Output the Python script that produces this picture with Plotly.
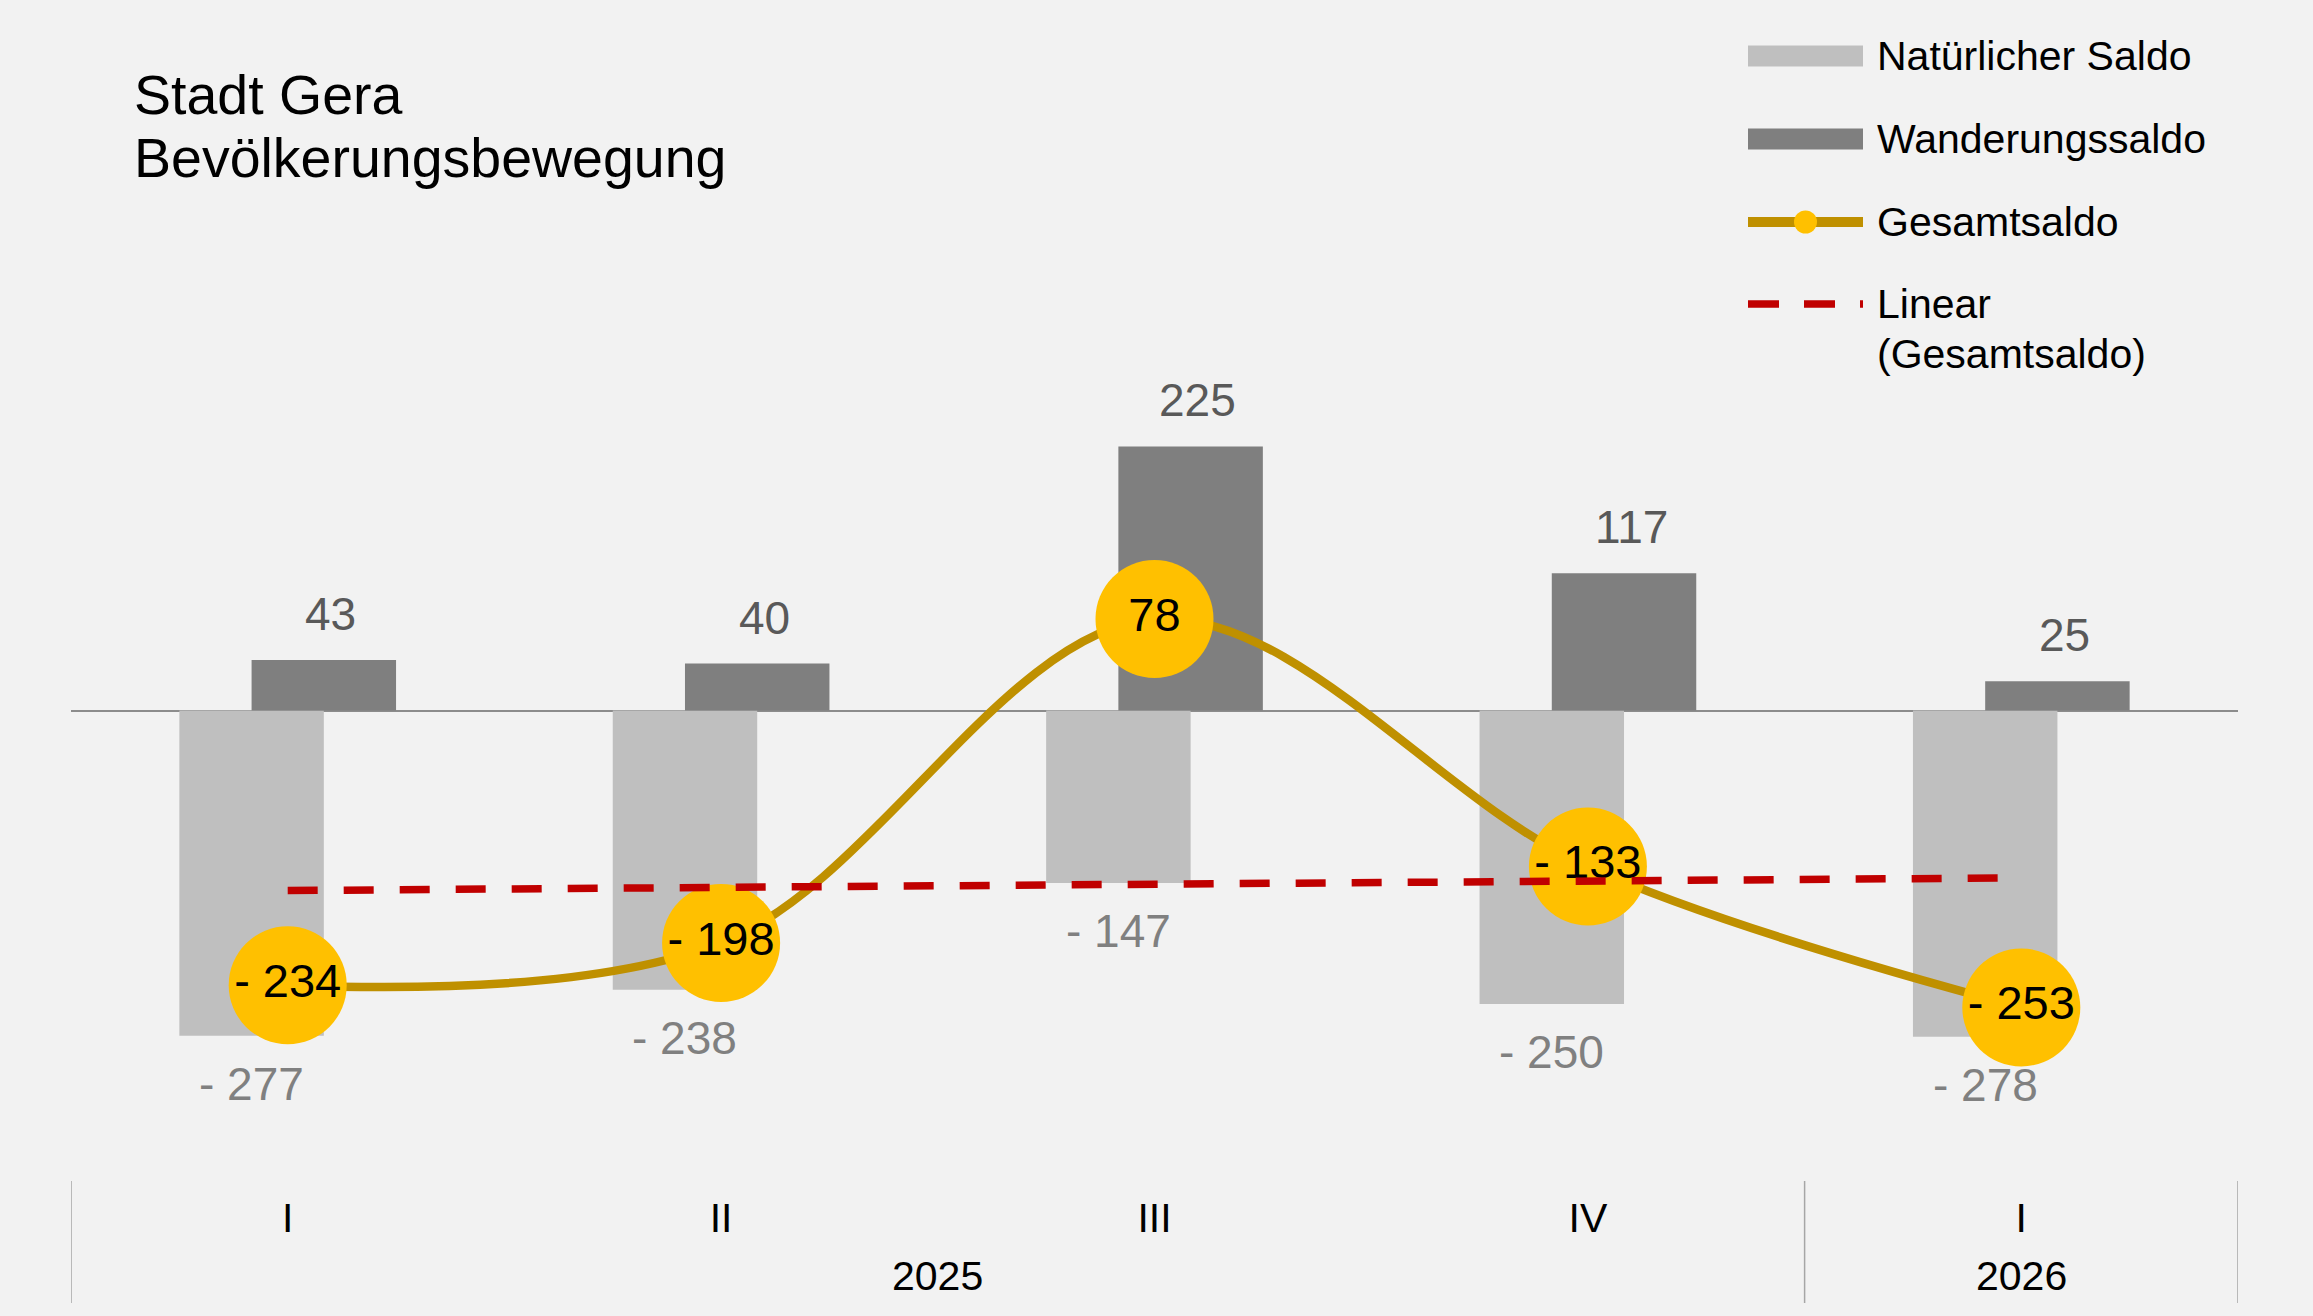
import plotly.graph_objects as go

# Daten
quartale = ["I", "II", "III", "IV", "I"]
jahre = ["2025", "2025", "2025", "2025", "2026"]
natuerlicher_saldo = [-277, -238, -147, -250, -278]
wanderungssaldo = [43, 40, 225, 117, 25]
gesamtsaldo = [-234, -198, 78, -133, -253]
linear_trend = [-153.4, -142.6]  # Endpunkte der linearen Trendlinie (erstes / letztes Quartal)

# Bildgröße und Plotbereich (Pixel)
W, H = 2313, 1316
L, R, T, B = 71, 2238, 241, 1180
FONT = "Liberation Sans, Arial, sans-serif"

def px_x(p):
    return (p - L) / (R - L)

def px_y(p):
    return (B - p) / (B - T)

def fmt(v):
    return f"- {abs(v)}" if v < 0 else str(v)

pos = list(range(len(quartale)))
fig = go.Figure()

# Balken
fig.add_trace(go.Bar(x=pos, y=natuerlicher_saldo, width=1/3, offset=-0.25,
                     marker=dict(color="#BFBFBF", line=dict(width=0)),
                     name="Natürlicher Saldo", showlegend=False, hoverinfo="skip"))
fig.add_trace(go.Bar(x=pos, y=wanderungssaldo, width=1/3, offset=-1/12,
                     marker=dict(color="#7F7F7F", line=dict(width=0)),
                     name="Wanderungssaldo", showlegend=False, hoverinfo="skip"))

# Gesamtsaldo (geglättete Linie mit großen Markern)
fig.add_trace(go.Scatter(x=pos, y=gesamtsaldo, mode="lines+markers+text",
                         line=dict(color="#BF9000", width=8.5, shape="spline", smoothing=1),
                         marker=dict(size=118, color="#FFC000", line=dict(width=0)),
                         text=[fmt(v) for v in gesamtsaldo], textposition="middle center",
                         textfont=dict(family=FONT, size=47, color="black"),
                         name="Gesamtsaldo", showlegend=False, hoverinfo="skip"))

# Linearer Trend
fig.add_trace(go.Scatter(x=[pos[0], pos[-1]], y=linear_trend, mode="lines",
                         line=dict(color="#C00000", width=7.5, dash="30px,26px"),
                         name="Linear (Gesamtsaldo)", showlegend=False, hoverinfo="skip"))

annotations = []
# Beschriftungen der Balken
for i, v in enumerate(wanderungssaldo):
    annotations.append(dict(x=i + 1/12, y=v, xref="x", yref="y", text=fmt(v), showarrow=False,
                            yanchor="bottom", yshift=18, xshift=7,
                            font=dict(family=FONT, size=46, color="#595959")))
for i, v in enumerate(natuerlicher_saldo):
    annotations.append(dict(x=i - 1/12, y=v, xref="x", yref="y", text=fmt(v), showarrow=False,
                            yanchor="top", yshift=-20,
                            font=dict(family=FONT, size=46, color="#808080")))

# Jahre unter den Quartalen
for jahr in sorted(set(jahre)):
    idx = [i for i, j in enumerate(jahre) if j == jahr]
    annotations.append(dict(x=(idx[0] + idx[-1]) / 2, y=px_y(1276), xref="x", yref="paper",
                            text=jahr, showarrow=False, yanchor="middle",
                            font=dict(family=FONT, size=41, color="black")))

# Titel
annotations.append(dict(x=px_x(132), y=px_y(95), xref="paper", yref="paper", text="Stadt Gera",
                        showarrow=False, xanchor="left", yanchor="middle",
                        font=dict(family=FONT, size=55.5, color="black")))
annotations.append(dict(x=px_x(132), y=px_y(158), xref="paper", yref="paper",
                        text="Bevölkerungsbewegung", showarrow=False, xanchor="left", yanchor="middle",
                        font=dict(family=FONT, size=55.5, color="black")))

shapes = []
# Trennlinien der Jahresgruppen
grenzen = [-0.5] + [i + 0.5 for i in range(len(jahre) - 1) if jahre[i] != jahre[i + 1]] + [len(jahre) - 0.5]
for g in grenzen:
    shapes.append(dict(type="line", xref="x", yref="paper", x0=g, x1=g, y0=px_y(1181), y1=px_y(1303),
                       line=dict(color="#A6A6A6", width=1.5)))

# Legende (manuell)
lx0, lx1, tx = 1748, 1863, 1875
leg_y = [56, 139, 222, 304]
shapes.append(dict(type="rect", xref="paper", yref="paper", x0=px_x(lx0), x1=px_x(lx1),
                   y0=px_y(leg_y[0] - 10.5), y1=px_y(leg_y[0] + 10.5),
                   fillcolor="#BFBFBF", line=dict(width=0)))
shapes.append(dict(type="rect", xref="paper", yref="paper", x0=px_x(lx0), x1=px_x(lx1),
                   y0=px_y(leg_y[1] - 10.5), y1=px_y(leg_y[1] + 10.5),
                   fillcolor="#7F7F7F", line=dict(width=0)))
shapes.append(dict(type="line", xref="paper", yref="paper", x0=px_x(lx0), x1=px_x(lx1),
                   y0=px_y(leg_y[2]), y1=px_y(leg_y[2]), line=dict(color="#BF9000", width=10)))
mx = (lx0 + lx1) / 2
shapes.append(dict(type="circle", xref="paper", yref="paper", x0=px_x(mx - 11.5), x1=px_x(mx + 11.5),
                   y0=px_y(leg_y[2] - 11.5), y1=px_y(leg_y[2] + 11.5),
                   fillcolor="#FFC000", line=dict(width=0)))
shapes.append(dict(type="line", xref="paper", yref="paper", x0=px_x(lx0), x1=px_x(lx1),
                   y0=px_y(leg_y[3]), y1=px_y(leg_y[3]),
                   line=dict(color="#C00000", width=7.5, dash="31px,25px")))

for txt, y in [("Natürlicher Saldo", leg_y[0]), ("Wanderungssaldo", leg_y[1]),
               ("Gesamtsaldo", leg_y[2]), ("Linear", leg_y[3]), ("(Gesamtsaldo)", leg_y[3] + 50)]:
    annotations.append(dict(x=px_x(tx), y=px_y(y), xref="paper", yref="paper", text=txt,
                            showarrow=False, xanchor="left", yanchor="middle",
                            font=dict(family=FONT, size=41, color="black")))

fig.update_layout(
    width=W, height=H,
    margin=dict(l=L, r=W - R, t=T, b=H - B, pad=0),
    paper_bgcolor="#F2F2F2", plot_bgcolor="#F2F2F2",
    barmode="overlay",
    showlegend=False,
    font=dict(family=FONT, color="black"),
    xaxis=dict(range=[-0.5, len(quartale) - 0.5], tickvals=pos, ticktext=quartale,
               tickfont=dict(family=FONT, size=41, color="black"), ticks="",
               showgrid=False, zeroline=False, showline=False, ticklabelstandoff=10),
    yaxis=dict(range=[-400, 400], showticklabels=False, ticks="", showgrid=False,
               zeroline=True, zerolinecolor="#8C8C8C", zerolinewidth=1.5, showline=False),
    annotations=annotations,
    shapes=shapes,
)

# Seitenrand entfernen, damit die Grafik das Fenster genau ausfüllt
fig.write_html("out.html", config={"displayModeBar": False},
               post_script="document.body.style.margin='0';")
